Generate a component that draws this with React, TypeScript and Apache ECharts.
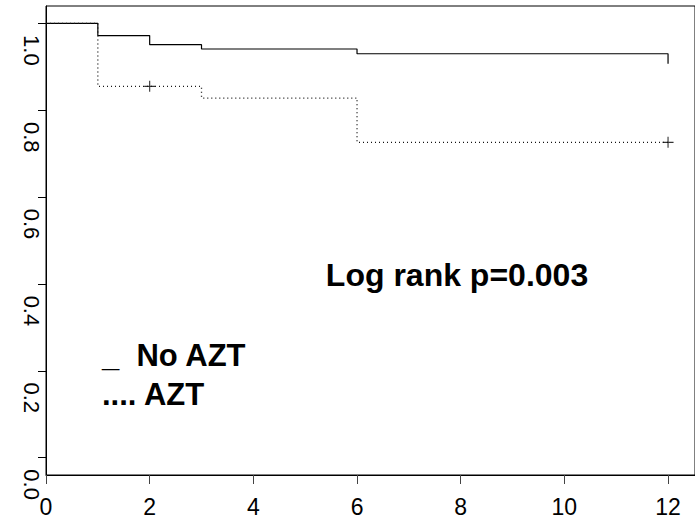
import React, { useEffect, useRef } from "react";
import * as echarts from "echarts";

// Kaplan-Meier survival estimates by month
const noAztTimes = [0, 1, 2, 3, 6, 12];
const noAztSurvival = [1.0, 0.972, 0.951, 0.941, 0.93, 0.907];

const aztTimes = [0, 1, 3, 6, 12];
const aztSurvival = [1.0, 0.855, 0.828, 0.726, 0.726];

// censored observations in the AZT group
const aztCensorTimes = [2, 12];
const aztCensorSurvival = [0.855, 0.726];

const xTicks = [0, 2, 4, 6, 8, 10, 12];
const yTicks = [0, 0.2, 0.4, 0.6, 0.8, 1.0];

const pValueText = "Log rank p=0.003";
const legendLines = ["_  No AZT", ".... AZT"];

const FONT = "'Liberation Sans', Arial, Helvetica, sans-serif";
const PLUS = "path://M4.5,0h1v10h-1zM0,4.5h10v1h-10z";

export default function App() {
  const ref = useRef<HTMLDivElement>(null);

  useEffect(() => {
    if (!ref.current) return;
    const chart = echarts.init(ref.current, null, { renderer: "svg" });

    const pairs = (xs: number[], ys: number[]) => xs.map((x, i) => [x, ys[i]]);

    chart.setOption({
      animation: false,
      backgroundColor: "#fff",
      textStyle: { fontFamily: FONT },
      grid: {
        left: 46,
        top: 6,
        right: -2,
        bottom: 47,
        show: true,
        borderColor: "#000",
        borderWidth: 1,
        backgroundColor: "transparent",
      },
      xAxis: {
        type: "value",
        min: 0,
        max: 12.52,
        splitLine: { show: false },
        axisLine: { show: true, onZero: false, lineStyle: { color: "#000", width: 1 } },
        axisTick: {
          show: true,
          length: 9,
          customValues: xTicks,
          lineStyle: { color: "#444", width: 1 },
        },
        axisLabel: {
          customValues: xTicks,
          color: "#000",
          fontSize: 23,
          margin: 20,
          fontFamily: FONT,
          showMaxLabel: true,
        },
      },
      yAxis: {
        type: "value",
        min: -0.04,
        max: 1.04,
        splitLine: { show: false },
        axisLine: { show: true, onZero: false, lineStyle: { color: "#000", width: 1 } },
        axisTick: {
          show: true,
          length: 8,
          customValues: yTicks,
          lineStyle: { color: "#000", width: 1 },
        },
        axisLabel: {
          customValues: yTicks,
          rotate: -90,
          margin: 4,
          color: "#000",
          fontFamily: FONT,
          formatter: (v: number) => "{a|" + v.toFixed(1) + "}",
          rich: {
            a: { fontSize: 22, fontFamily: FONT, color: "#000", padding: [0, 0, 0, 54] },
          },
        },
      },
      series: [
        {
          name: "No AZT",
          type: "line",
          step: "end",
          data: pairs(noAztTimes, noAztSurvival),
          symbol: "none",
          lineStyle: { color: "#000", width: 1.2 },
        },
        {
          name: "AZT",
          type: "line",
          step: "end",
          data: pairs(aztTimes, aztSurvival),
          symbol: "none",
          lineStyle: { color: "#111", width: 1.3, type: [1, 3] },
        },
        {
          name: "AZT censored",
          type: "scatter",
          data: pairs(aztCensorTimes, aztCensorSurvival),
          symbol: PLUS,
          symbolSize: 11,
          itemStyle: { color: "#000" },
        },
      ],
      graphic: [
        {
          type: "text",
          x: 457,
          y: 275,
          style: {
            text: pValueText,
            fontSize: 32,
            fontWeight: "bold",
            fontFamily: FONT,
            fill: "#000",
            textAlign: "center",
            textVerticalAlign: "middle",
          },
        },
        {
          type: "text",
          x: 102,
          y: 355,
          style: {
            text: legendLines[0],
            fontSize: 31,
            fontWeight: "bold",
            fontFamily: FONT,
            fill: "#000",
            textAlign: "left",
            textVerticalAlign: "middle",
          },
        },
        {
          type: "text",
          x: 102,
          y: 394,
          style: {
            text: legendLines[1],
            fontSize: 31,
            fontWeight: "bold",
            fontFamily: FONT,
            fill: "#000",
            textAlign: "left",
            textVerticalAlign: "middle",
          },
        },
      ],
    });

    return () => chart.dispose();
  }, []);

  return (
    <div
      ref={ref}
      style={{ position: "absolute", left: 0, top: 0, width: 695, height: 522, background: "#fff" }}
    />
  );
}
